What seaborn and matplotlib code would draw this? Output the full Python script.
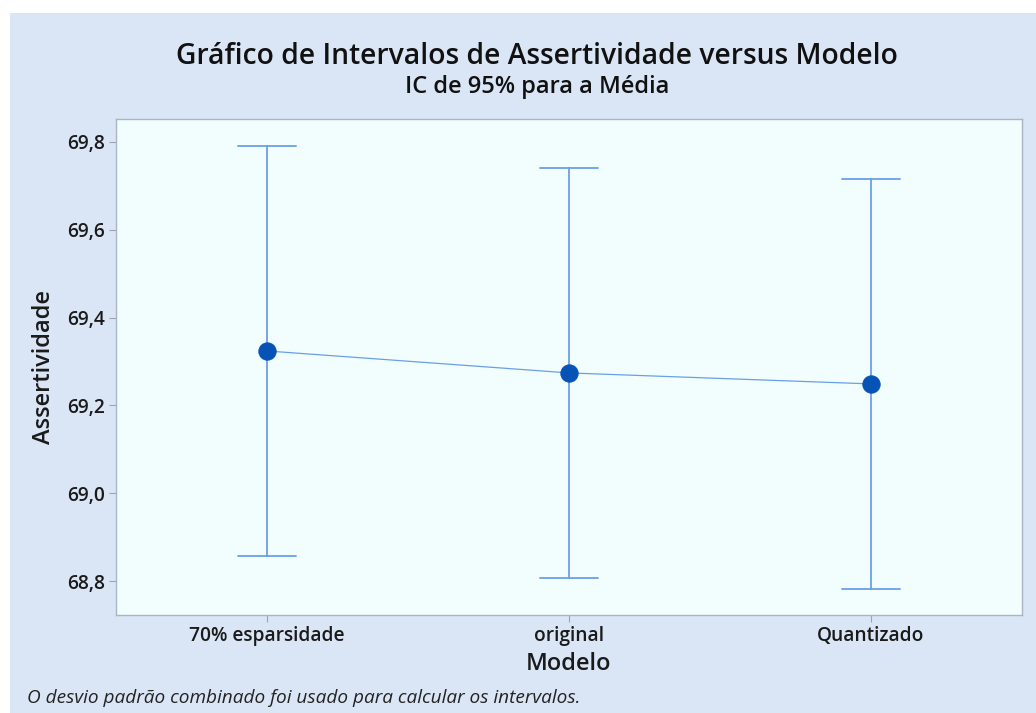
import matplotlib

matplotlib.use("Agg")

import matplotlib.pyplot as plt
import pandas as pd
import seaborn as sns
from matplotlib.patches import Rectangle
from matplotlib.ticker import FuncFormatter

MODELS = ["70% esparsidade", "original", "Quantizado"]
MEANS = [69.324, 69.274, 69.249]
LOWER = [68.857, 68.807, 68.782]
UPPER = [69.791, 69.741, 69.716]
Y_TICKS = [68.8, 69.0, 69.2, 69.4, 69.6, 69.8]

BG_COLOR = "#dae5f5"
PANEL_COLOR = "#f2fefe"
BAR_COLOR = "#6a9fe8"
MARKER_COLOR = "#0653b5"


def build_frame() -> pd.DataFrame:
    rows = []
    for model, lo, mid, hi in zip(MODELS, LOWER, MEANS, UPPER):
        for value in (lo, mid, hi):
            rows.append({"Modelo": model, "Assertividade": value})
    return pd.DataFrame(rows)


def main() -> None:
    sns.set_theme(style="white")
    plt.rcParams["font.family"] = ["Open Sans", "DejaVu Sans"]

    df = build_frame()

    fig = plt.figure(figsize=(10.36, 7.13), dpi=100, facecolor="white")
    fig.patches.append(
        Rectangle((10 / 1036, 0), 1, 1 - 13 / 713, transform=fig.transFigure,
                  facecolor=BG_COLOR, edgecolor="none", zorder=-10)
    )
    ax = fig.add_axes([116 / 1036, 1 - 615 / 713, (1022 - 116) / 1036, (615 - 119) / 713])
    ax.set_facecolor(PANEL_COLOR)

    sns.pointplot(
        data=df,
        x="Modelo",
        y="Assertividade",
        order=MODELS,
        estimator="mean",
        errorbar=lambda v: (v.min(), v.max()),
        capsize=0.19,
        color=BAR_COLOR,
        markers="o",
        markersize=12.5,
        linewidth=0.9,
        err_kws={"linewidth": 1.3},
        ax=ax,
    )
    main_line = ax.lines[0]
    main_line.set_markerfacecolor(MARKER_COLOR)
    main_line.set_markeredgecolor(MARKER_COLOR)
    main_line.set_zorder(5)

    ax.set_xlim(-0.5, 2.5)
    ax.set_ylim(68.723, 69.852)
    ax.set_yticks(Y_TICKS)
    ax.yaxis.set_major_formatter(FuncFormatter(lambda v, _: f"{v:.1f}".replace(".", ",")))

    for spine in ax.spines.values():
        spine.set_color("#a9b5c6")
        spine.set_linewidth(1.0)
    ax.tick_params(axis="both", which="both", direction="out", length=5, width=0.8,
                   color="#9aa3b0", labelsize=13.8, labelcolor="#1a1a1a", pad=3,
                   bottom=True, left=True)
    for label in ax.get_xticklabels() + ax.get_yticklabels():
        label.set_fontweight("semibold")

    ax.set_xlabel("Modelo", fontsize=17, fontweight="semibold", color="#1a1a1a", labelpad=4)
    ax.set_ylabel("Assertividade", fontsize=17, fontweight="semibold", color="#1a1a1a", labelpad=8)

    fig.text(537 / 1036, 1 - 57 / 713, "Gráfico de Intervalos de Assertividade versus Modelo",
             ha="center", va="center", fontsize=20.3, fontweight="semibold", color="#111111")
    fig.text(537 / 1036, 1 - 87 / 713, "IC de 95% para a Média",
             ha="center", va="center", fontsize=17, fontweight="semibold", color="#111111")
    fig.text(27 / 1036, 1 - 698 / 713,
             "O desvio padrão combinado foi usado para calcular os intervalos.",
             ha="left", va="center", fontsize=13.7, style="italic", color="#222222")

    fig.savefig("out.png", dpi=100, facecolor=fig.get_facecolor())
    plt.close(fig)


if __name__ == "__main__":
    main()
